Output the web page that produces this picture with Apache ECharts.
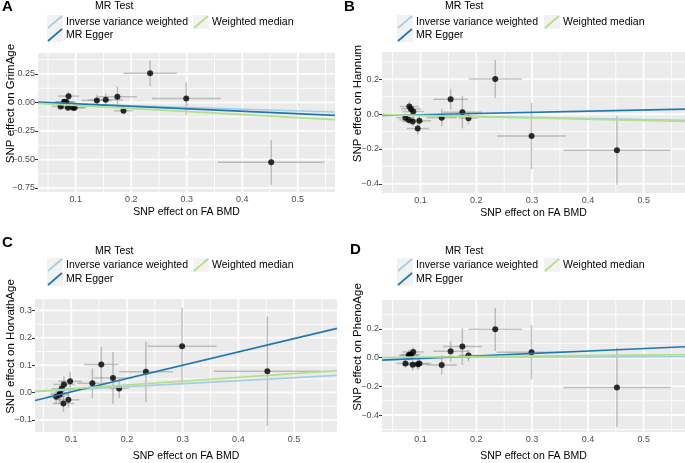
<!DOCTYPE html>
<html><head><meta charset="utf-8">
<script src="https://cdn.jsdelivr.net/npm/echarts@6/dist/echarts.min.js"></script>
<style>html,body{margin:0;padding:0;background:#fff}#c{width:685px;height:463px}</style>
</head><body><div id="c"></div>
<script>
// ---- data ----
const snpX   = [0.073, 0.079, 0.080, 0.083, 0.086, 0.087, 0.095, 0.098, 0.138, 0.154, 0.175, 0.186, 0.234, 0.299, 0.452];
const snpXse = [0.016, 0.017, 0.017, 0.018, 0.019, 0.019, 0.020, 0.021, 0.027, 0.031, 0.035, 0.017, 0.048, 0.062, 0.096];

const grimY   = [-0.035, 0.003, 0.005, 0.003, -0.046, 0.055, -0.046, -0.046, 0.017, 0.023, 0.049, -0.073, 0.255, 0.035, -0.525];
const grimYse = [0.020, 0.020, 0.025, 0.020, 0.020, 0.035, 0.025, 0.020, 0.050, 0.055, 0.090, 0.030, 0.113, 0.142, 0.196];

const hannumY   = [-0.020, -0.033, 0.044, 0.030, -0.042, 0.015, -0.083, -0.038, -0.020, 0.086, 0.011, -0.023, 0.202, -0.125, -0.208];
const hannumYse = [0.025, 0.025, 0.030, 0.030, 0.025, 0.030, 0.035, 0.030, 0.050, 0.060, 0.093, 0.035, 0.110, 0.190, 0.197];

const horvathY   = [-0.015, -0.008, -0.002, 0.014, -0.040, 0.030, -0.026, 0.041, 0.034, 0.103, 0.053, 0.015, 0.076, 0.169, 0.078];
const horvathYse = [0.025, 0.030, 0.030, 0.030, 0.030, 0.030, 0.030, 0.035, 0.054, 0.063, 0.095, 0.035, 0.111, 0.140, 0.200];

const phenoY   = [-0.040, 0.018, 0.015, 0.022, -0.049, 0.040, -0.045, -0.040, -0.051, 0.045, 0.078, 0.015, 0.198, 0.038, -0.207];
const phenoYse = [0.030, 0.035, 0.035, 0.035, 0.040, 0.035, 0.040, 0.035, 0.067, 0.072, 0.128, 0.040, 0.150, 0.190, 0.277];

const methods = ['Inverse variance weighted', 'MR Egger', 'Weighted median'];
const grimSlope = [-0.148, -0.216, -0.266],   grimIntercept = [0, 0.0097, 0];
const hannumSlope = [-0.063, 0.068, -0.073],  hannumIntercept = [0, -0.010, 0];
const horvathSlope = [0.109, 0.486, 0.139],   horvathIntercept = [0, -0.046, 0];
const phenoSlope = [0.012, 0.173, 0.038],     phenoIntercept = [0, -0.023, 0];

const xTicks = [0.1, 0.2, 0.3, 0.4, 0.5];
const xTickLabels = ['0.1', '0.2', '0.3', '0.4', '0.5'];
const xMinor = [0.05, 0.15, 0.25, 0.35, 0.45, 0.55];
const grimTicks = [-0.75, -0.5, -0.25, 0, 0.25];
const grimTickLabels = ['\u22120.75', '\u22120.50', '\u22120.25', '0.00', '0.25'];
const grimMinor = [-0.625, -0.375, -0.125, 0.125, 0.375];
const hannumTicks = [-0.4, -0.2, 0, 0.2];
const hannumTickLabels = ['\u22120.4', '\u22120.2', '0.0', '0.2'];
const hannumMinor = [-0.3, -0.1, 0.1, 0.3];
const horvathTicks = [-0.1, 0, 0.1, 0.2, 0.3];
const horvathTickLabels = ['\u22120.1', '0.0', '0.1', '0.2', '0.3'];
const horvathMinor = [-0.05, 0.05, 0.15, 0.25];
const phenoTicks = [-0.4, -0.2, 0, 0.2];
const phenoTickLabels = ['\u22120.4', '\u22120.2', '0.0', '0.2'];
const phenoMinor = [-0.5, -0.3, -0.1, 0.1, 0.3];

const xTitle = 'SNP effect on FA BMD';
const panelLetters = ['A', 'B', 'C', 'D'];
const yTitles = ['SNP effect on GrimAge', 'SNP effect on Hannum', 'SNP effect on HorvathAge', 'SNP effect on PhenoAge'];
const legendTitle = 'MR Test';

// ---- styling / layout ----
const FONT = 'Liberation Sans, Arial, sans-serif';
const methodColors = ['#A6CEE3', '#1F78B4', '#B2DF8A'];
const GRIDLINE = '#FCFCFC';
const panels = [
  {y: grimY, yse: grimYse, slope: grimSlope, icpt: grimIntercept, ticks: grimTicks, labels: grimTickLabels, minor: grimMinor,
   grid: {left: 38, top: 53, width: 297, height: 139}, xr: [0.032, 0.567], yr: [-0.785, 0.433], nameGapX: 15, nameGapY: 21,
   letter: [2, 7], leg: {tx: 95, ty: 6, kx: 47, wx: 193, r1: 22, r2: 35}},
  {y: hannumY, yse: hannumYse, slope: hannumSlope, icpt: hannumIntercept, ticks: hannumTicks, labels: hannumTickLabels, minor: hannumMinor,
   grid: {left: 382, top: 52, width: 303, height: 141}, xr: [0.031, 0.574], yr: [-0.453, 0.357], nameGapX: 15, nameGapY: 18,
   letter: [344, 7], leg: {tx: 445, ty: 6, kx: 397, wx: 544, r1: 22, r2: 35}},
  {y: horvathY, yse: horvathYse, slope: horvathSlope, icpt: horvathIntercept, ticks: horvathTicks, labels: horvathTickLabels, minor: horvathMinor,
   grid: {left: 35, top: 299, width: 302, height: 139}, xr: [0.035, 0.577], yr: [-0.144, 0.342], nameGapX: 19, nameGapY: 18,
   letter: [2, 243], leg: {tx: 95, ty: 251, kx: 47, wx: 193, r1: 265, r2: 279}},
  {y: phenoY, yse: phenoYse, slope: phenoSlope, icpt: phenoIntercept, ticks: phenoTicks, labels: phenoTickLabels, minor: phenoMinor,
   grid: {left: 382, top: 300, width: 303, height: 138}, xr: [0.031, 0.574], yr: [-0.518, 0.402], nameGapX: 19, nameGapY: 18,
   letter: [350, 250], leg: {tx: 445, ty: 251, kx: 397, wx: 544, r1: 265, r2: 279}}
];

function labelFor(ticks, labels) {
  return function (v) {
    for (let i = 0; i < ticks.length; i++) if (Math.abs(ticks[i] - v) < 1e-9) return labels[i];
    return '';
  };
}

const grids = [], xAxes = [], yAxes = [], series = [], graphics = [];
panels.forEach(function (p, i) {
  grids.push(Object.assign({show: false, containLabel: false}, p.grid));
  xAxes.push({
    type: 'value', gridIndex: i, min: p.xr[0], max: p.xr[1],
    axisLine: {show: false},
    axisTick: {show: true, length: 3, customValues: xTicks, lineStyle: {color: '#333333', width: 1}},
    axisLabel: {customValues: xTicks, formatter: labelFor(xTicks, xTickLabels), fontSize: 9, color: '#4D4D4D', margin: 3, fontFamily: FONT},
    splitLine: {show: false},
    name: xTitle, nameLocation: 'middle', nameGap: p.nameGapX, nameMoveOverlap: false,
    nameTextStyle: {fontSize: 10.5, color: '#000', fontFamily: FONT}
  });
  yAxes.push({
    type: 'value', gridIndex: i, min: p.yr[0], max: p.yr[1],
    axisLine: {show: false},
    axisTick: {show: true, length: 3, customValues: p.ticks, lineStyle: {color: '#333333', width: 1}},
    axisLabel: {customValues: p.ticks, formatter: labelFor(p.ticks, p.labels), fontSize: 9, color: '#4D4D4D', margin: 3, fontFamily: FONT},
    splitLine: {show: false},
    name: yTitles[i], nameLocation: 'middle', nameGap: p.nameGapY, nameMoveOverlap: false,
    nameTextStyle: {fontSize: 11.5, color: '#000', fontFamily: FONT, padding: [0, 0, 0, 38]}
  });
  // error bars
  const eb = snpX.map((x, k) => [x, p.y[k], snpXse[k], p.yse[k]]);
  series.push({
    type: 'custom', xAxisIndex: i, yAxisIndex: i, silent: true, z: 4, clip: true,
    data: eb, encode: {x: 0, y: 1},
    renderItem: function (params, api) {
      const x = api.value(0), y = api.value(1), xs = api.value(2), ys = api.value(3);
      const a = api.coord([x - xs, y]), b = api.coord([x + xs, y]);
      const c = api.coord([x, y - ys]), d = api.coord([x, y + ys]);
      const st = {stroke: 'rgba(140,140,140,0.5)', lineWidth: 1.5};
      return {type: 'group', children: [
        {type: 'line', shape: {x1: a[0], y1: a[1], x2: b[0], y2: b[1]}, style: st},
        {type: 'line', shape: {x1: c[0], y1: c[1], x2: d[0], y2: d[1]}, style: st}
      ]};
    }
  });
  // points
  series.push({
    type: 'scatter', xAxisIndex: i, yAxisIndex: i, silent: true, z: 5,
    symbolSize: 6, itemStyle: {color: '#000000'},
    data: snpX.map((x, k) => [x, p.y[k]])
  });
  // MR fit lines
  methods.forEach(function (m, j) {
    series.push({
      type: 'line', name: m, xAxisIndex: i, yAxisIndex: i, silent: true, z: 6,
      showSymbol: false, symbol: 'none',
      lineStyle: {color: methodColors[j], width: 1.7},
      itemStyle: {color: methodColors[j]},
      data: [[p.xr[0], p.icpt[j] + p.slope[j] * p.xr[0]], [p.xr[1], p.icpt[j] + p.slope[j] * p.xr[1]]]
    });
  });
  // panel letter
  graphics.push({type: 'text', x: p.letter[0], y: p.letter[1], z: 10,
    style: {text: panelLetters[i], font: 'bold 15px ' + FONT, fill: '#000', align: 'left', verticalAlign: 'middle'}});
  // legend
  const L = p.leg;
  graphics.push({type: 'text', x: L.tx, y: L.ty, z: 10,
    style: {text: legendTitle, font: '10.5px ' + FONT, fill: '#000', align: 'left', verticalAlign: 'middle'}});
  const keys = [[L.kx, L.r1], [L.kx, L.r2], [L.wx, L.r1]];
  keys.forEach(function (k, j) {
    graphics.push({type: 'rect', z: 10, shape: {x: k[0], y: k[1] - 7, width: 16, height: 14}, style: {fill: '#F2F2F2'}});
    graphics.push({type: 'line', z: 11, shape: {x1: k[0] + 1, y1: k[1] + 6, x2: k[0] + 15, y2: k[1] - 6},
      style: {stroke: methodColors[j], lineWidth: 1.7}});
    graphics.push({type: 'text', z: 11, x: k[0] + 19, y: k[1],
      style: {text: methods[j], font: '10.5px ' + FONT, fill: '#000', align: 'left', verticalAlign: 'middle'}});
  });
});

const chart = echarts.init(document.getElementById('c'), null, {renderer: 'canvas'});
chart.setOption({
  animation: false,
  backgroundColor: '#FFFFFF',
  textStyle: {fontFamily: FONT},
  grid: grids, xAxis: xAxes, yAxis: yAxes, series: series
});

// panel backgrounds and gridlines (as thin filled bars), placed through the axes' own scales
panels.forEach(function (p, i) {
  const tl = chart.convertToPixel({gridIndex: i}, [p.xr[0], p.yr[1]]);
  const br = chart.convertToPixel({gridIndex: i}, [p.xr[1], p.yr[0]]);
  graphics.push({type: 'rect', z: 0, silent: true,
    shape: {x: tl[0], y: tl[1], width: br[0] - tl[0], height: br[1] - tl[1]}, style: {fill: '#EBEBEB'}});
  function vbar(v, w) {
    const px = chart.convertToPixel({gridIndex: i}, [v, p.yr[0]])[0];
    graphics.push({type: 'rect', z: 1, silent: true,
      shape: {x: px - w / 2, y: tl[1], width: w, height: br[1] - tl[1]}, style: {fill: GRIDLINE}});
  }
  function hbar(v, w) {
    const py = chart.convertToPixel({gridIndex: i}, [p.xr[0], v])[1];
    graphics.push({type: 'rect', z: 1, silent: true,
      shape: {x: tl[0], y: py - w / 2, width: br[0] - tl[0], height: w}, style: {fill: GRIDLINE}});
  }
  xMinor.forEach(v => vbar(v, 1));
  p.minor.forEach(v => hbar(v, 1));
  xTicks.forEach(v => vbar(v, 2));
  p.ticks.forEach(v => hbar(v, 2));
});
chart.setOption({graphic: {elements: graphics}});
</script></body></html>
